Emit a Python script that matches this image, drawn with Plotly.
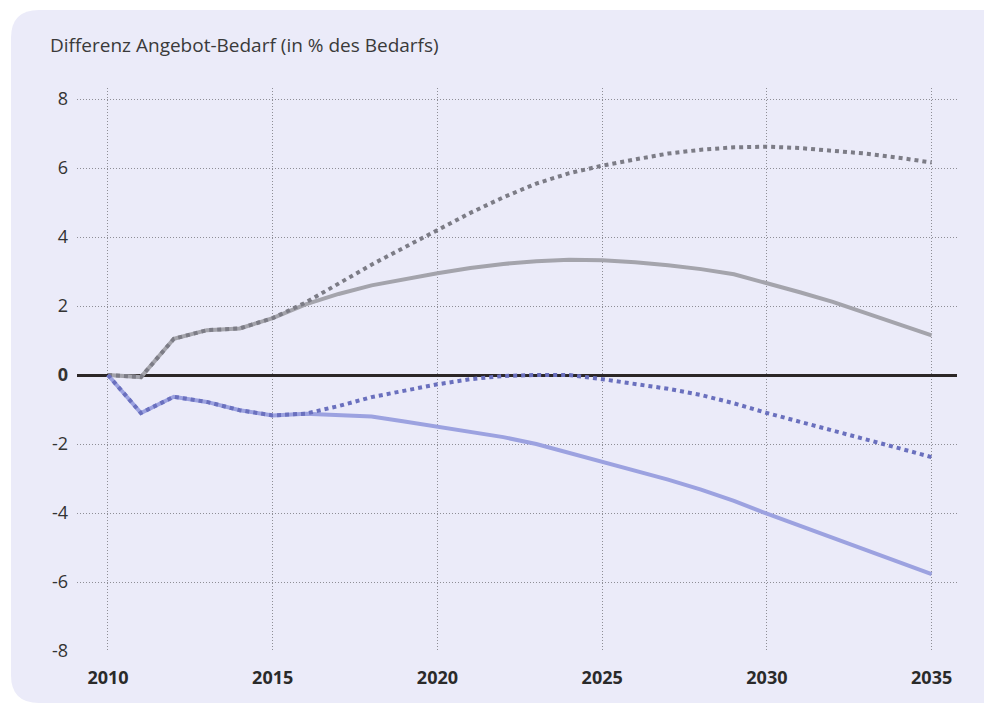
import plotly.graph_objects as go

years = list(range(2010, 2036))

grau_linie = [0.0, -0.06, 1.05, 1.3, 1.35, 1.65, 2.05, 2.35, 2.6, 2.78, 2.95, 3.1, 3.22, 3.3, 3.34,
              3.33, 3.27, 3.18, 3.07, 2.92, 2.67, 2.4, 2.12, 1.8, 1.48, 1.15]
grau_punkte = [0.0, -0.06, 1.05, 1.3, 1.35, 1.65, 2.1, 2.65, 3.2, 3.7, 4.2, 4.7, 5.15, 5.55, 5.85,
               6.07, 6.25, 6.42, 6.53, 6.6, 6.62, 6.58, 6.5, 6.42, 6.3, 6.16]
blau_linie = [0.0, -1.1, -0.63, -0.78, -1.02, -1.17, -1.12, -1.15, -1.2, -1.35, -1.5, -1.63, -1.8,
              -2.0, -2.25, -2.52, -2.77, -3.03, -3.32, -3.65, -4.02, -4.37, -4.75, -5.1, -5.45, -5.77]
blau_punkte = [0.0, -1.1, -0.63, -0.78, -1.02, -1.17, -1.12, -0.9, -0.64, -0.45, -0.27, -0.12, -0.03,
               0.0, 0.0, -0.12, -0.25, -0.4, -0.58, -0.82, -1.1, -1.35, -1.6, -1.86, -2.12, -2.38]

x_ticks = [2010, 2015, 2020, 2025, 2030, 2035]
x_ticktext = ["<b>2010</b>", "<b>2015</b>", "<b>2020</b>", "<b>2025</b>", "<b>2030</b>", "<b>2035</b>"]
y_ticks = [-8, -6, -4, -2, 0, 2, 4, 6, 8]
y_ticktext = ["-8", "-6", "-4", "-2", "<b>0</b>", "2", "4", "6", "8"]

title_text = "Differenz Angebot-Bedarf (in % des Bedarfs)"

bg = "#ebebf9"

fig = go.Figure()
fig.add_trace(go.Scatter(x=years, y=grau_linie, mode="lines",
                         line=dict(color="#a4a4ac", width=4), showlegend=False))
fig.add_trace(go.Scatter(x=years, y=blau_linie, mode="lines",
                         line=dict(color="#9ca2e0", width=4), showlegend=False))
fig.add_trace(go.Scatter(x=years, y=grau_punkte, mode="lines",
                         line=dict(color="#7c7c86", width=4, dash="4px,4px"), showlegend=False))
fig.add_trace(go.Scatter(x=years, y=blau_punkte, mode="lines",
                         line=dict(color="#6a70be", width=4, dash="4px,4px"), showlegend=False))

# plot area in pixels: left 77, right 957, top 88, bottom 651
L, R, T, B = 77, 957, 88, 651
W, H = R - L, B - T

def px(xp):
    return (xp - L) / W

def py(yp):
    return (B - yp) / H

# rounded background card
x0, y0, x1, y1, r = 11, 10, 1010, 703, 28
path = (f"M {px(x0)},{py(y0 + r)} "
        f"Q {px(x0)},{py(y0)} {px(x0 + r)},{py(y0)} "
        f"L {px(x1)},{py(y0)} L {px(x1)},{py(y1)} "
        f"L {px(x0 + r)},{py(y1)} "
        f"Q {px(x0)},{py(y1)} {px(x0)},{py(y1 - r)} Z")

fig.update_layout(
    width=984, height=708,
    margin=dict(l=L, r=984 - R, t=T, b=708 - B),
    paper_bgcolor="white",
    plot_bgcolor="rgba(0,0,0,0)",
    font=dict(family="Open Sans, sans-serif", color="#333333"),
    shapes=[dict(type="path", xref="paper", yref="paper", path=path,
                 fillcolor=bg, line=dict(width=0), layer="below")],
    annotations=[dict(text=title_text, xref="paper", yref="paper",
                      x=px(48), y=py(45), xanchor="left", yanchor="middle",
                      showarrow=False, font=dict(size=19, color="#3a3a3a"))],
)
fig.update_xaxes(range=[2009.06, 2035.77], tickvals=x_ticks, ticktext=x_ticktext,
                 showgrid=True, gridcolor="#8e8e96", gridwidth=1, griddash="1px,2px",
                 zeroline=False, showline=False, ticks="", ticklabelstandoff=14,
                 tickfont=dict(size=18, color="#2a2a2a"))
fig.update_yaxes(range=[-8, 8.32], tickvals=y_ticks, ticktext=y_ticktext,
                 showgrid=True, gridcolor="#8e8e96", gridwidth=1, griddash="1px,2px",
                 zeroline=True, zerolinecolor="#2b2626", zerolinewidth=3,
                 showline=False, ticks="", ticklabelstandoff=8,
                 tickfont=dict(size=18, color="#333333"))

fig.write_html("out.html", config={"displayModeBar": False},
               post_script="document.body.style.margin='0';")
